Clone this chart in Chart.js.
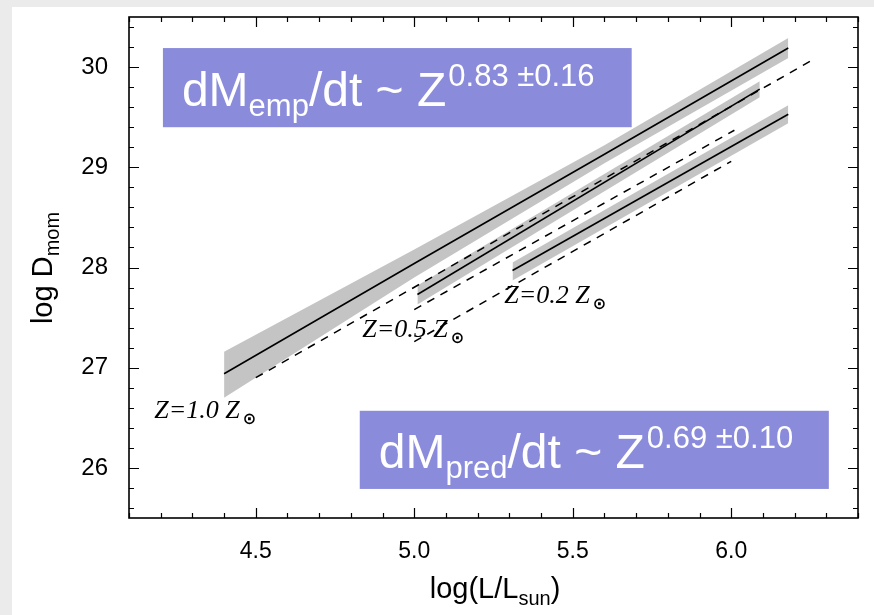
<!DOCTYPE html>
<html><head><meta charset="utf-8">
<script src="https://cdn.jsdelivr.net/npm/chart.js@4/dist/chart.umd.min.js"></script>
<style>html,body{margin:0;padding:0;background:#fff;overflow:hidden}</style>
</head><body>
<canvas id="c" width="874" height="615" style="display:block;width:874px;height:615px"></canvas>
<script>
// ---- data ----
const X_TICKS = [4.5, 5.0, 5.5, 6.0];
const Y_TICKS = [26, 27, 28, 29, 30];

// empirical fits (solid) with confidence bands (grey)
const Z10_X   = [4.40, 5.00, 5.60, 6.18];
const Z10_FIT = [26.94, 28.04, 29.13, 30.19];
const Z10_UP  = [27.16, 28.18, 29.22, 30.29];
const Z10_LO  = [26.70, 27.90, 29.04, 30.09];

const Z05_X   = [5.01, 6.09];
const Z05_FIT = [27.73, 29.78];
const Z05_UP  = [27.82, 29.86];
const Z05_LO  = [27.63, 29.70];

const Z02_X   = [5.31, 6.18];
const Z02_FIT = [27.97, 29.53];
const Z02_UP  = [28.05, 29.62];
const Z02_LO  = [27.87, 29.44];

// predicted relations (dashed)
const P10_X = [4.50, 6.25];
const P10_Y = [26.90, 30.06];
const P05_X = [5.00, 6.01];
const P05_Y = [27.58, 29.37];
const P02_X = [5.00, 6.00];
const P02_Y = [27.26, 29.06];

const Z_LABELS = ['Z=1.0 Z', 'Z=0.5 Z', 'Z=0.2 Z'];
const SUN = '\u2299';
const BOX_TOP = {main1:'dM', sub:'emp', main2:'/dt ~ Z', sup:'0.83 \u00b10.16'};
const BOX_BOT = {main1:'dM', sub:'pred', main2:'/dt ~ Z', sup:'0.69 \u00b10.10'};

// ---- helpers ----
const pts = (xs, ys) => xs.map((x, i) => ({x: x, y: ys[i]}));
function line(xs, ys, extra) {
  return Object.assign({data: pts(xs, ys), pointRadius: 0, borderColor: '#000', borderWidth: 1.6,
    fill: false, tension: 0, order: 0}, extra || {});
}
const BAND = '#c4c4c4';
function bandUp(xs, ys) { return line(xs, ys, {borderColor: 'rgba(0,0,0,0)', borderWidth: 0, fill: '+1', backgroundColor: BAND, order: 1}); }
function bandLo(xs, ys) { return line(xs, ys, {borderColor: 'rgba(0,0,0,0)', borderWidth: 0, order: 1}); }
const DASH = {borderDash: [8, 7], borderWidth: 1.5};

const SANS = '"Liberation Sans", Arial, sans-serif';
const SERIF = '"Liberation Serif", "Times New Roman", serif';

function runs(ctx, x, y, items, align) {
  let w = 0;
  items.forEach(it => { ctx.font = it.font; it.w = ctx.measureText(it.t).width; w += it.w + (it.gap || 0); });
  let cx = align === 'center' ? x - w / 2 : x;
  ctx.textBaseline = 'alphabetic';
  ctx.textAlign = 'left';
  items.forEach(it => { cx += (it.gap || 0); ctx.font = it.font; ctx.fillText(it.t, cx, y + (it.dy || 0)); cx += it.w; });
}
const noPad = s => { s.paddingTop = 0; s.paddingBottom = 0; s.paddingLeft = 0; s.paddingRight = 0; };

const deco = {
  id: 'deco',
  beforeDraw(chart) {
    const ctx = chart.ctx;
    ctx.save();
    ctx.fillStyle = '#ebebeb'; ctx.fillRect(0, 0, chart.width, chart.height);
    ctx.fillStyle = '#ffffff'; ctx.fillRect(12, 7, chart.width - 12, chart.height - 7);
    ctx.restore();
  },
  afterDatasetsDraw(chart) {
    const ctx = chart.ctx, xs = chart.scales.x, ys = chart.scales.y, a = chart.chartArea;
    ctx.save();
    const box = (x0, y0, x1, y1, b) => {
      const L = xs.getPixelForValue(x0), R = xs.getPixelForValue(x1);
      const T = ys.getPixelForValue(y0), B = ys.getPixelForValue(y1);
      ctx.fillStyle = '#8a8cdb';
      ctx.fillRect(L, T, R - L, B - T);
      ctx.fillStyle = '#ffffff';
      runs(ctx, L + 19, B - 21, [
        {t: b.main1, font: '48px ' + SANS},
        {t: b.sub, font: '31px ' + SANS, dy: 10},
        {t: b.main2, font: '48px ' + SANS},
        {t: b.sup, font: '31px ' + SANS, dy: -20, gap: 2}
      ]);
    };
    box(4.207, 30.19, 5.686, 29.40, BOX_TOP);
    box(4.828, 26.57, 6.308, 25.79, BOX_BOT);

    ctx.fillStyle = '#000';
    const zl = (x, y, t) => {
      runs(ctx, xs.getPixelForValue(x), ys.getPixelForValue(y), [
        {t: t, font: 'italic 26px ' + SERIF},
        {t: SUN, font: 'bold 16px "DejaVu Sans"', dy: 6, gap: 3}
      ]);
    };
    zl(4.18, 26.50, Z_LABELS[0]);
    zl(4.836, 27.31, Z_LABELS[1]);
    zl(5.284, 27.65, Z_LABELS[2]);

    ctx.strokeStyle = '#000';
    ctx.lineWidth = 1.6;
    ctx.strokeRect(a.left, a.top, a.right - a.left, a.bottom - a.top);
    ctx.lineWidth = 1.2;
    ctx.beginPath();
    for (let i = 41; i <= 64; i++) {
      const v = i / 10, px = Math.round(xs.getPixelForValue(v)) + 0.5;
      const len = i % 5 === 0 ? 10 : 5;
      ctx.moveTo(px, a.bottom); ctx.lineTo(px, a.bottom - len);
      ctx.moveTo(px, a.top); ctx.lineTo(px, a.top + len);
    }
    for (let i = 128; i <= 152; i++) {
      const v = i / 5, py = Math.round(ys.getPixelForValue(v)) + 0.5;
      const len = i % 5 === 0 ? 10 : 5;
      ctx.moveTo(a.left, py); ctx.lineTo(a.left + len, py);
      ctx.moveTo(a.right, py); ctx.lineTo(a.right - len, py);
    }
    ctx.stroke();
    ctx.restore();
  },
  afterDraw(chart) {
    const ctx = chart.ctx;
    ctx.save();
    ctx.fillStyle = '#000';
    runs(ctx, 495, 598, [
      {t: 'log(L/L', font: '29px ' + SANS},
      {t: 'sun', font: '20px ' + SANS, dy: 7},
      {t: ')', font: '29px ' + SANS}
    ], 'center');
    ctx.translate(52, 268);
    ctx.rotate(-Math.PI / 2);
    runs(ctx, 0, 0, [
      {t: 'log D', font: '29px ' + SANS},
      {t: 'mom', font: '20px ' + SANS, dy: 7}
    ], 'center');
    ctx.restore();
  }
};

new Chart(document.getElementById('c'), {
  type: 'line',
  data: {
    datasets: [
      line(Z10_X, Z10_FIT),
      line(Z05_X, Z05_FIT),
      line(Z02_X, Z02_FIT),
      line(P10_X, P10_Y, DASH),
      line(P05_X, P05_Y, DASH),
      line(P02_X, P02_Y, DASH),
      bandUp(Z10_X, Z10_UP), bandLo(Z10_X, Z10_LO),
      bandUp(Z05_X, Z05_UP), bandLo(Z05_X, Z05_LO),
      bandUp(Z02_X, Z02_UP), bandLo(Z02_X, Z02_LO)
    ]
  },
  options: {
    responsive: false,
    animation: false,
    events: [],
    layout: {padding: {top: 17, right: 16, left: 0, bottom: 0}},
    plugins: {legend: {display: false}, tooltip: {enabled: false}},
    scales: {
      x: {
        type: 'linear', min: 4.1, max: 6.4,
        afterBuildTicks: s => { s.ticks = X_TICKS.map(v => ({value: v})); },
        afterFit: s => { s.height = 97; noPad(s); },
        grid: {display: false, drawTicks: false},
        border: {display: false},
        ticks: {padding: 20, color: '#000', autoSkip: false, maxRotation: 0,
          font: {family: SANS, size: 23}, callback: v => Number(v).toFixed(1)}
      },
      y: {
        type: 'linear', min: 25.5, max: 30.5,
        afterBuildTicks: s => { s.ticks = Y_TICKS.map(v => ({value: v})); },
        afterFit: s => { s.width = 129; noPad(s); },
        grid: {display: false, drawTicks: false},
        border: {display: false},
        ticks: {padding: 21, color: '#000', font: {family: SANS, size: 24}, callback: v => String(v)}
      }
    }
  },
  plugins: [deco]
});
</script>
</body></html>
